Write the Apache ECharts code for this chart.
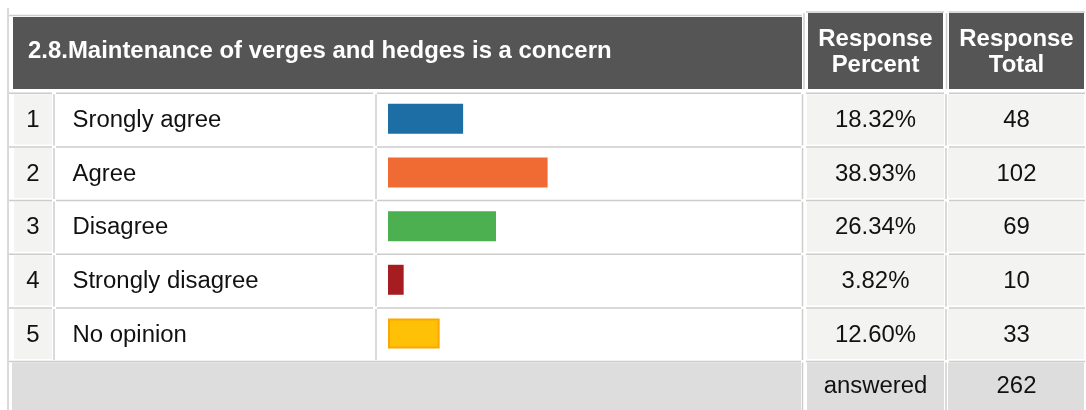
<!DOCTYPE html>
<html>
<head>
<meta charset="utf-8">
<script src="https://cdn.jsdelivr.net/npm/echarts@6/dist/echarts.min.js"></script>
<style>html,body{margin:0;padding:0;background:#fff;}#c{width:1086px;height:410px;}</style>
</head>
<body>
<div id="c"></div>
<script>
// ---- data ----
const title = '2.8.Maintenance of verges and hedges is a concern';
const headerPercent = ['Response', 'Percent'];
const headerTotal = ['Response', 'Total'];
const rowNumbers = ['1', '2', '3', '4', '5'];
const categories = ['Srongly agree', 'Agree', 'Disagree', 'Strongly disagree', 'No opinion'];
const percents = [18.32, 38.93, 26.34, 3.82, 12.60];
const totals = [48, 102, 69, 10, 33];
const answeredLabel = 'answered';
const answeredTotal = 262;
const barColors = ['#1c6ea4', '#f06a33', '#4caf50', '#a51d20', '#ffc107'];
const barBorders = [null, null, null, null, '#ffa500'];

// ---- layout ----
const LINE = '#cccccc';
const HEAD = '#555555';
const CELL = '#f3f3f2';
const ANS = '#dddddd';
const FONT = '"Liberation Sans", Arial, sans-serif';
const SX = 1.04;
const FS = 23;
const rowTop0 = 93.3, rowH = 53.65;

const g = [];
function rect(x, y, w, h, fill, z) { g.push({ type: 'rect', silent: true, z: z || 0, shape: { x, y, width: w, height: h }, style: { fill } }); }
function hline(x1, x2, y) { rect(x1, y - 0.75, x2 - x1, 1.5, LINE, 1); }
function vline(x, y1, y2) { rect(x - 0.75, y1, 1.5, y2 - y1, LINE, 1); }
function text(str, x, y, opt) {
  opt = opt || {};
  g.push({ type: 'text', silent: true, z: 5, x, y, scaleX: SX,
    style: { text: str, x: 0, y: 0, fill: opt.fill || '#111111',
      fontSize: opt.size || FS, fontWeight: opt.bold ? 'bold' : 'normal', fontFamily: FONT,
      align: opt.align || 'center', verticalAlign: 'middle',
      textAlign: opt.align || 'center', textVerticalAlign: 'middle' } });
}

// outer left line
vline(8, 8, 410);
// header
hline(9, 802, 15.5);
rect(13, 17, 789, 72, HEAD);
hline(806, 944, 12);
vline(804, 13, 89);
rect(808, 13, 135, 76, HEAD);
hline(949, 1085, 12);
vline(946.5, 13, 89);
rect(949, 13, 135, 76, HEAD);
text(title, 28, 51.5, { bold: true, fill: '#ffffff', align: 'left' });
text(headerPercent[0], 875.5, 39.5, { bold: true, fill: '#ffffff' });
text(headerPercent[1], 875.5, 65.5, { bold: true, fill: '#ffffff' });
text(headerTotal[0], 1016.5, 39.5, { bold: true, fill: '#ffffff' });
text(headerTotal[1], 1016.5, 65.5, { bold: true, fill: '#ffffff' });

// body rows
categories.forEach(function (cat, i) {
  const top = rowTop0 + i * rowH;
  const bot = top + rowH;
  hline(9, 52, top); hline(56, 373, top); hline(377, 801, top); hline(806, 944, top); hline(949, 1085, top);
  vline(54, top + 1, bot - 1.5); vline(376, top + 1, bot - 1.5); vline(802.5, top + 1, bot - 1.5); vline(946, top + 1, bot - 1.5);
  rect(14, top + 1, 38, rowH - 3.5, CELL);
  rect(807, top + 1, 137, rowH - 3.5, CELL);
  rect(948, top + 1, 136, rowH - 3.5, CELL);
  const cy = top + 27.3;
  text(rowNumbers[i], 33, cy);
  text(cat, 72.5, cy, { align: 'left' });
  text(percents[i].toFixed(2) + '%', 875.5, cy);
  text(String(totals[i]), 1016.5, cy);
});
// answered row
const aTop = rowTop0 + 5 * rowH;
hline(9, 801, aTop); hline(806, 944, aTop); hline(949, 1085, aTop);
rect(12, aTop + 1, 789, 410 - aTop, ANS);
vline(802.5, aTop + 1, 410); vline(946, aTop + 1, 410);
rect(807, aTop + 1, 137, 410 - aTop, ANS);
rect(948, aTop + 1, 136, 410 - aTop, ANS);
text(answeredLabel, 875.5, aTop + 25.5);
text(String(answeredTotal), 1016.5, aTop + 25.5);

const chart = echarts.init(document.getElementById('c'), null, { renderer: 'canvas' });
chart.setOption({
  animation: false,
  backgroundColor: '#ffffff',
  grid: { left: 388, top: 92, width: 410, height: rowH * 5 },
  xAxis: { type: 'value', min: 0, max: 100, show: false },
  yAxis: { type: 'category', data: categories, inverse: true, show: false },
  series: [{
    type: 'bar', barWidth: 30, z: 10,
    data: percents.map(function (v, i) {
      return { value: v, itemStyle: { color: barColors[i], borderColor: barBorders[i] || barColors[i], borderWidth: barBorders[i] ? 2 : 0 } };
    })
  }],
  graphic: { elements: g }
});
</script>
</body>
</html>
